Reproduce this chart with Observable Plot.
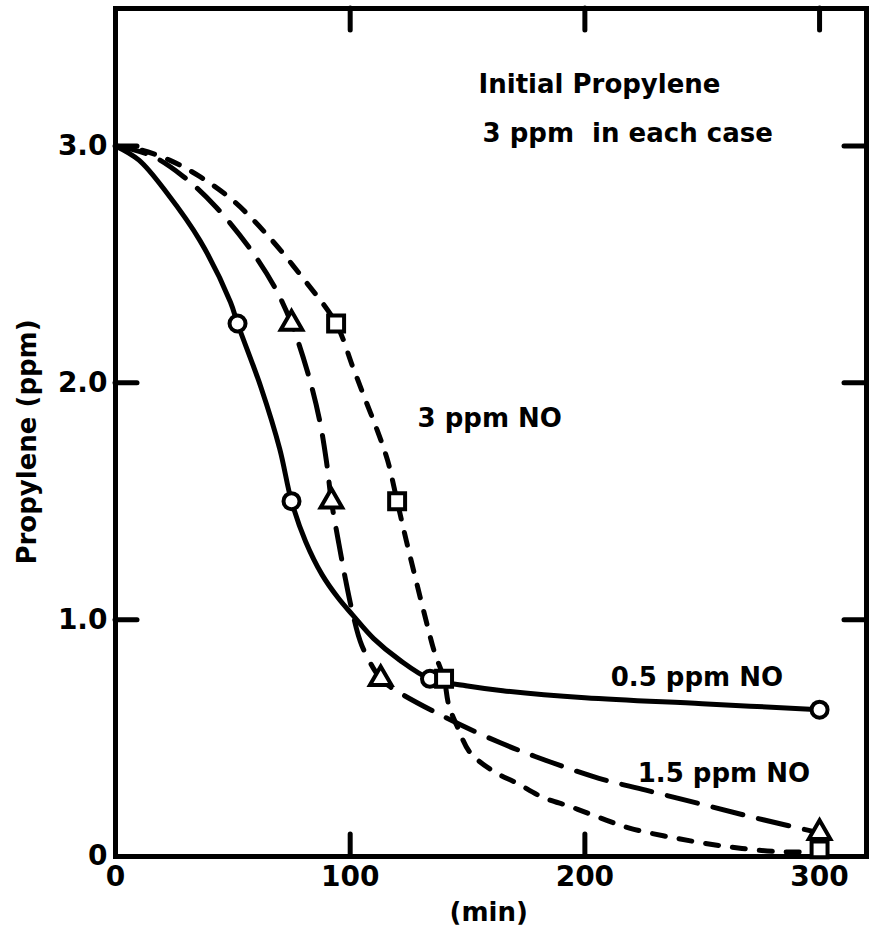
<!DOCTYPE html>
<html>
<head>
<meta charset="utf-8">
<script src="https://cdn.jsdelivr.net/npm/d3@7"></script>
<script src="https://cdn.jsdelivr.net/npm/@observablehq/plot@0.6"></script>
<style>
  html, body { margin: 0; padding: 0; background: #fff; }
  #chart svg { display: block; }
</style>
</head>
<body>
<div id="chart"></div>
<script>
// Propylene decay (initial 3 ppm) for three initial NO concentrations.

const seriesNames = ["0.5 ppm NO", "1.5 ppm NO", "3 ppm NO"];

// Smooth curves, traced as (minutes, ppm) pairs
const curve05Min = [0, 10, 22, 36, 49, 52, 62, 70, 75, 81, 88, 95, 101, 110, 121, 134, 150, 165, 200, 250, 300];
const curve05Ppm = [3.0, 2.94, 2.80, 2.60, 2.34, 2.25, 1.98, 1.72, 1.5, 1.33, 1.19, 1.09, 1.02, 0.92, 0.83, 0.75, 0.72, 0.70, 0.67, 0.645, 0.62];

const curve15Min = [0, 15, 29, 43, 57, 68, 75, 82, 87, 90, 92, 95, 98, 101, 105, 113, 118, 140, 164, 185, 206, 226, 254, 276, 300];
const curve15Ppm = [3.0, 2.96, 2.87, 2.74, 2.57, 2.40, 2.25, 2.04, 1.84, 1.66, 1.5, 1.33, 1.17, 1.03, 0.89, 0.75, 0.71, 0.59, 0.48, 0.40, 0.33, 0.28, 0.21, 0.155, 0.10];

const curve30Min = [0, 10, 23, 36, 50, 65, 80, 94, 101, 106, 111.5, 116, 120, 124, 133, 136, 140, 142, 146, 151, 161, 171, 182, 194, 206, 219, 240, 262, 283, 300];
const curve30Ppm = [3.0, 2.985, 2.94, 2.87, 2.77, 2.62, 2.44, 2.25, 2.07, 1.94, 1.80, 1.67, 1.5, 1.33, 0.97, 0.86, 0.75, 0.64, 0.54, 0.44, 0.36, 0.31, 0.25, 0.21, 0.165, 0.12, 0.075, 0.04, 0.02, 0.02];

// Measured points on each curve
const mark05Min = [52, 75, 134, 300];
const mark05Ppm = [2.25, 1.5, 0.75, 0.62];
const mark15Min = [75, 92, 113, 300];
const mark15Ppm = [2.25, 1.5, 0.75, 0.10];
const mark30Min = [94, 120, 140, 300];
const mark30Ppm = [2.25, 1.5, 0.75, 0.03];

// Axis ticks and their labels
const xTicks = [0, 100, 200, 300];
const xTickLabels = ["0", "100", "200", "300"];
const yTicks = [0, 1, 2, 3];
const yTickLabels = ["0", "1.0", "2.0", "3.0"];
const bottomTicks = [100, 200];
const topTicks = [100, 200, 300];
const sideTicks = [1, 2, 3];

const xTitle = "(min)";
const yTitle = "Propylene (ppm)";
const noteLines = ["Initial Propylene", "3 ppm\u00a0 in each case"];

const rows = (xs, ys) => xs.map((x, i) => ({min: x, ppm: ys[i]}));
const curve05 = rows(curve05Min, curve05Ppm);
const curve15 = rows(curve15Min, curve15Ppm);
const curve30 = rows(curve30Min, curve30Ppm);
const marks05 = rows(mark05Min, mark05Ppm);
const marks15 = rows(mark15Min, mark15Ppm);
const marks30 = rows(mark30Min, mark30Ppm);

const ink = "#000";
const lineStyle = {x: "min", y: "ppm", curve: "catmull-rom", stroke: ink, strokeWidth: 5,
  strokeLinecap: "round", strokeLinejoin: "round"};
const dotStyle = {x: "min", y: "ppm", fill: "#fff", stroke: ink, strokeWidth: 4};
const tickStyle = {stroke: ink, strokeWidth: 5, strokeLinecap: "round"};
const labelStyle = {text: d => d, textAnchor: "start", fontSize: 26};

// frame is 751 x 848 px; ticks reach 22 px inward
const tickInset = 826;
const tickInsetX = 729;

const chart = Plot.plot({
  width: 873,
  height: 945,
  marginLeft: 115,
  marginRight: 7,
  marginTop: 8,
  marginBottom: 89,
  x: {domain: [0, 320]},
  y: {domain: [0, 3.58]},
  style: {fontFamily: "'DejaVu Sans', Verdana, sans-serif", fontWeight: "bold", fontSize: "28px", background: "#fff", color: ink},
  marks: [
    Plot.frame({stroke: ink, strokeWidth: 5}),
    Plot.tickX(bottomTicks, {x: d => d, insetTop: tickInset, ...tickStyle}),
    Plot.tickX(topTicks, {x: d => d, insetBottom: tickInset, ...tickStyle}),
    Plot.tickY(sideTicks, {y: d => d, insetRight: tickInsetX, ...tickStyle}),
    Plot.tickY(sideTicks, {y: d => d, insetLeft: tickInsetX, ...tickStyle}),
    Plot.axisX(xTicks, {tickSize: 0, tickPadding: 10, label: null, fontSize: 28,
      tickFormat: d => xTickLabels[xTicks.indexOf(d)]}),
    Plot.axisY(yTicks, {tickSize: 0, tickPadding: 8, label: null, fontSize: 28,
      tickFormat: d => yTickLabels[yTicks.indexOf(d)]}),

    Plot.line(curve05, lineStyle),
    Plot.line(curve15, {...lineStyle, strokeDasharray: "31,16"}),
    Plot.line(curve30, {...lineStyle, strokeDasharray: "13,14"}),

    Plot.dot(marks05, {...dotStyle, symbol: "circle", r: 8}),
    Plot.dot(marks15, {...dotStyle, symbol: "triangle", r: 8}),
    Plot.dot(marks30, {...dotStyle, symbol: "square", r: 9}),

    // curve labels
    Plot.text([seriesNames[0]], {x: 211, y: 0.755, ...labelStyle}),
    Plot.text([seriesNames[1]], {x: 222.5, y: 0.35, ...labelStyle}),
    Plot.text([seriesNames[2]], {x: 128.7, y: 1.85, ...labelStyle}),

    // note in the upper right
    Plot.text([noteLines[0]], {x: 154.7, y: 3.26, ...labelStyle}),
    Plot.text([noteLines[1]], {x: 156.4, y: 3.05, ...labelStyle}),

    // axis titles
    Plot.text([xTitle], {x: 159, frameAnchor: "bottom", dy: 64, text: d => d, textAnchor: "middle", fontSize: 26}),
    Plot.text([yTitle], {y: 1.75, frameAnchor: "left", dx: -88, rotate: -90, text: d => d, textAnchor: "middle", fontSize: 26})
  ]
});

document.getElementById("chart").append(chart);
</script>
</body>
</html>
